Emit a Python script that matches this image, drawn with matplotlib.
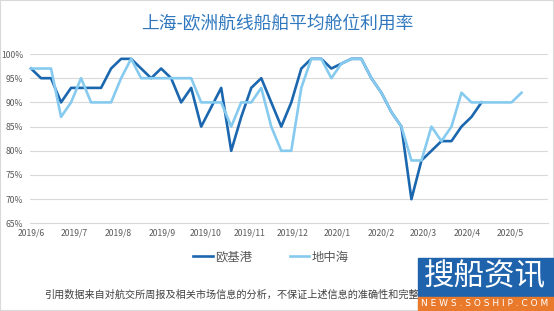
import numpy as np
import pandas as pd
import matplotlib; matplotlib.use("Agg"); import matplotlib.pyplot as plt
from matplotlib.patches import Rectangle

plt.rcParams['font.family'] = ['Noto Sans CJK SC', 'DejaVu Sans']

# weekly load factor (%), Shanghai -> Europe
weeks = pd.date_range("2019-06-07", periods=50, freq="7D")
north_europe = [97,95,95,90,93,93,93,93,97,99,99,97,95,97,95,90,93,85,89,93,80,87,93,95,90,
                85,90,97,99,99,97,98,99,99,95,92,88,85,70,78,80,82,82,85,87,90]
mediterranean = [97,97,97,87,90,95,90,90,90,95,99,95,95,95,95,95,95,90,90,90,85,90,90,93,85,
                 80,80,93,99,99,95,98,99,99,95,92,88,85,78,78,85,82,85,92,90,90,90,90,90,92]
series_names = ["欧基港", "地中海"]
y_ticks = [65, 70, 75, 80, 85, 90, 95, 100]
month_ticks = pd.date_range("2019-06-07", periods=12, freq=pd.DateOffset(months=1))
month_labels = [f"{d.year}/{d.month}" for d in month_ticks]

W, H = 554, 311
fig = plt.figure(figsize=(W/100, H/100), dpi=100)
px = lambda x, y: (x/W, 1 - y/H)

ax = fig.add_axes([30/W, 1-223.4/H, (548-30)/W, (223.4-54)/H])
dark, light = "#1B67AF", "#86CBEF"
ax.plot(weeks[:len(north_europe)], north_europe, color=dark, lw=1.9, label=series_names[0], zorder=3, clip_on=False)
ax.plot(weeks, mediterranean, color=light, lw=1.9, label=series_names[1], zorder=4, clip_on=False)

ax.set_ylim(65, 100)
ax.set_xlim(weeks[0] - pd.Timedelta(days=0.7), weeks[0] + pd.Timedelta(days=361.5))
ax.set_yticks(y_ticks)
ax.set_yticklabels([f"{v}%" for v in y_ticks])
ax.set_xticks(month_ticks)
ax.set_xticklabels(month_labels)
ax.grid(axis="y", color="#D9D9D9", lw=0.8)
ax.set_axisbelow(True)
for s in ["top", "right", "left"]:
    ax.spines[s].set_visible(False)
ax.spines["bottom"].set_color("#D9D9D9"); ax.spines["bottom"].set_linewidth(0.8)
ax.tick_params(axis="y", length=0, pad=5, labelsize=6.2, labelcolor="#595959")
ax.tick_params(axis="x", length=0, pad=3.5, labelsize=6.2, labelcolor="#595959")

fig.text(*px(277, 24), "上海-欧洲航线船舶平均舱位利用率", ha="center", va="center",
         fontsize=12.8, color="#2F78BE")

fig.legend(loc="center", bbox_to_anchor=px(271, 257), ncol=2, frameon=False, fontsize=8.9,
           handlelength=1.6, handletextpad=0.2, columnspacing=3.0, labelcolor="#595959")

fig.text(*px(44, 295), "引用数据来自对航交所周报及相关市场信息的分析，不保证上述信息的准确性和完整性",
         ha="left", va="center", fontsize=7.3, color="#404040")

# watermark logo
fig.patches.append(Rectangle(px(418, 297), 136/W, 39/H, transform=fig.transFigure, color="#1E63AC", zorder=5))
fig.patches.append(Rectangle(px(418, 311), 136/W, 14/H, transform=fig.transFigure, color="#E97A2C", zorder=5))
fig.text(*px(485, 277), "搜船资讯", ha="center", va="center", fontsize=22, color="white", zorder=6)
fig.text(*px(485, 304), "N E W S . S O S H I P . C O M", ha="center", va="center", fontsize=6.5,
         color="white", zorder=6, family="DejaVu Sans")

fig.patches.append(Rectangle((0, 0), 1, 1, transform=fig.transFigure, fill=False, ec="#D9D9D9", lw=1.5))
fig.savefig("out.png", dpi=100)
